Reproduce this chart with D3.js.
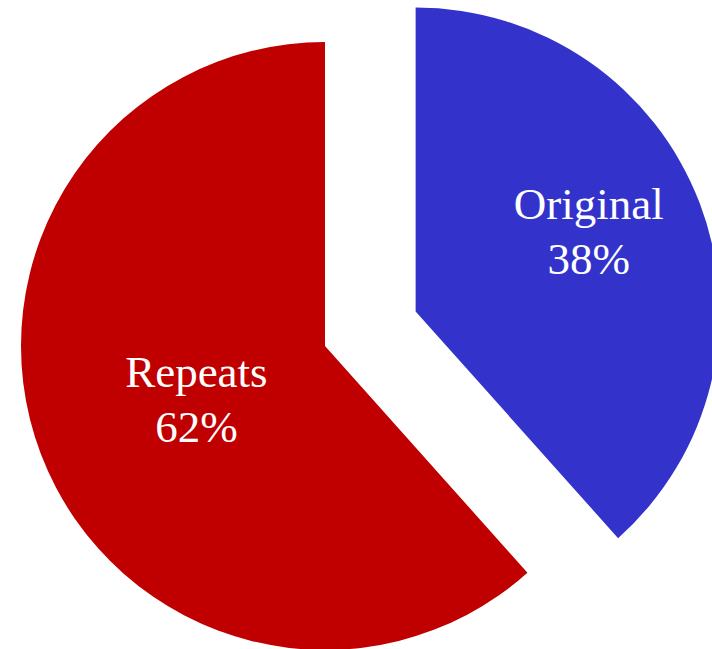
<!DOCTYPE html>
<html>
<head>
<meta charset="utf-8">
<script src="https://cdn.jsdelivr.net/npm/d3@7/dist/d3.min.js"></script>
<style>
  html, body { margin: 0; padding: 0; background: #ffffff; }
  svg { display: block; }
</style>
</head>
<body>
<script>
// Share of segments: original material vs. repeats
const categories = ["Original", "Repeats"];
const shares = [38.4, 61.6];
const colors = ["#3333CC", "#C00000"];

const width = 712, height = 649;
const cx = 325, cy = 346, radius = 304;
const explode = { Original: 97, Repeats: 0 };
// label placement along each wedge: fraction of radius and angular nudge (deg)
const labelLayout = { Original: { r: 0.609, turn: 0.2 }, Repeats: { r: 0.48, turn: -7.3 } };

const svg = d3.select("body").append("svg")
  .attr("width", width)
  .attr("height", height);

const data = categories.map((c, i) => ({ name: c, value: shares[i], color: colors[i] }));
const total = d3.sum(shares);

const pie = d3.pie().value(d => d.value).sort(null).startAngle(0).endAngle(2 * Math.PI);
const arcs = pie(data);
const arc = d3.arc().innerRadius(0).outerRadius(radius);
const pct = d3.format(".0%");

const g = svg.append("g").attr("transform", `translate(${cx},${cy})`);

const slice = g.selectAll("g.slice")
  .data(arcs)
  .join("g")
  .attr("class", "slice")
  .attr("transform", d => {
    const mid = (d.startAngle + d.endAngle) / 2;
    const off = explode[d.data.name];
    return `translate(${off * Math.sin(mid)},${-off * Math.cos(mid)})`;
  });

slice.append("path")
  .attr("d", arc)
  .attr("fill", d => d.data.color);

const label = slice.append("text")
  .attr("text-anchor", "middle")
  .attr("fill", "#ffffff")
  .style("font-family", "'Palatino Linotype', Palatino, 'Book Antiqua', 'Liberation Serif', serif")
  .style("font-size", "45px")
  .attr("transform", d => {
    const lay = labelLayout[d.data.name];
    const mid = (d.startAngle + d.endAngle) / 2 + lay.turn * Math.PI / 180;
    const r = radius * lay.r;
    return `translate(${r * Math.sin(mid)},${-r * Math.cos(mid)})`;
  });

label.append("tspan")
  .attr("x", 0)
  .attr("y", -27.5)
  .text(d => d.data.name);

label.append("tspan")
  .attr("x", 0)
  .attr("y", 27.5)
  .text(d => pct(d.data.value / total));
</script>
</body>
</html>
